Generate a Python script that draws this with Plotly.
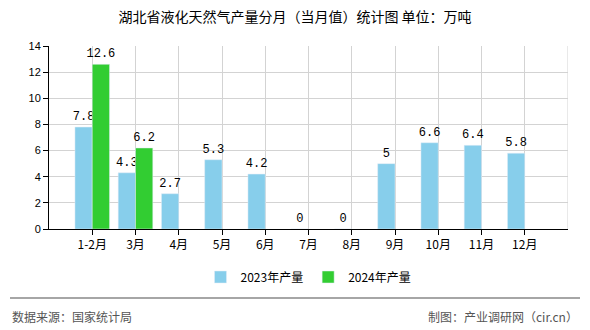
import plotly.graph_objects as go

categories = ["1-2月", "3月", "4月", "5月", "6月", "7月", "8月", "9月", "10月", "11月", "12月"]
values_2023 = [7.8, 4.3, 2.7, 5.3, 4.2, 0, 0, 5, 6.6, 6.4, 5.8]
values_2024 = [12.6, 6.2, None, None, None, None, None, None, None, None, None]
series_names = ["2023年产量", "2024年产量"]
y_ticks = [0, 2, 4, 6, 8, 10, 12, 14]

FONT = "Noto Sans CJK SC"
x_idx = list(range(len(categories)))

fig = go.Figure()
fig.add_trace(go.Bar(
    x=x_idx, y=values_2023, name=series_names[0], marker_color="#87CEEB",
    text=[str(v) for v in values_2023], textposition="outside", constraintext="none",
    textfont=dict(family="Liberation Mono", size=12, color="#000000"),
    cliponaxis=False,
))
fig.add_trace(go.Bar(
    x=x_idx, y=values_2024, name=series_names[1], marker_color="#32CD32",
    text=[("" if v is None else str(v)) for v in values_2024], textposition="outside",
    constraintext="none",
    textfont=dict(family="Liberation Mono", size=12, color="#000000"),
    cliponaxis=False,
))

fig.update_layout(
    width=590, height=330,
    margin=dict(l=49, r=22, t=46, b=101),
    paper_bgcolor="white", plot_bgcolor="white",
    barmode="group", bargap=0.2, bargroupgap=0,
    uniformtext=dict(mode=False),
    font=dict(family=FONT, size=12, color="#000000"),
    title=dict(text="湖北省液化天然气产量分月（当月值）统计图 单位：万吨",
               x=0.5, xanchor="center", y=1 - 17 / 330, yanchor="middle",
               font=dict(family=FONT, size=14, color="#000000")),
    legend=dict(orientation="h", x=0.5, xanchor="center", y=-48 / 183, yanchor="middle",
                font=dict(family=FONT, size=12, color="#000000"),
                traceorder="normal"),
    showlegend=True,
)
fig.update_xaxes(
    range=[-1, 11], tickmode="array", tickvals=x_idx, ticktext=categories,
    showgrid=True, gridcolor="#D3D3D3", gridwidth=1,
    showline=True, linecolor="#000000", linewidth=1,
    ticks="outside", ticklen=5, tickcolor="#000000",
    tickfont=dict(family=FONT, size=12, color="#000000"),
    zeroline=False, fixedrange=True,
)
fig.update_yaxes(
    range=[0, 14], tickmode="array", tickvals=y_ticks,
    showgrid=True, gridcolor="#D3D3D3", gridwidth=1,
    showline=True, linecolor="#000000", linewidth=1,
    ticks="outside", ticklen=5, tickcolor="#000000",
    tickfont=dict(family="Liberation Sans", size=11, color="#000000"),
    zeroline=False,
)
# right edge grid line
fig.add_shape(type="line", xref="x", yref="paper", x0=11, x1=11, y0=0, y1=1,
              line=dict(color="#D3D3D3", width=1))
# footer separator
fig.add_shape(type="line", xref="paper", yref="paper",
              x0=(10 - 49) / 519, x1=(580 - 49) / 519,
              y0=-(298 - 229) / 183, y1=-(298 - 229) / 183,
              line=dict(color="#888888", width=1.5))
fig.add_annotation(text="数据来源：国家统计局", xref="paper", yref="paper",
                   x=(10 - 49) / 519, xanchor="left", y=-(316 - 229) / 183, yanchor="middle",
                   showarrow=False, font=dict(family=FONT, size=12, color="#555555"))
fig.add_annotation(text="制图：产业调研网（cir.cn）", xref="paper", yref="paper",
                   x=(580 - 49) / 519, xanchor="right", y=-(316 - 229) / 183, yanchor="middle",
                   showarrow=False, font=dict(family=FONT, size=12, color="#555555"))

fig.write_html("out.html")
